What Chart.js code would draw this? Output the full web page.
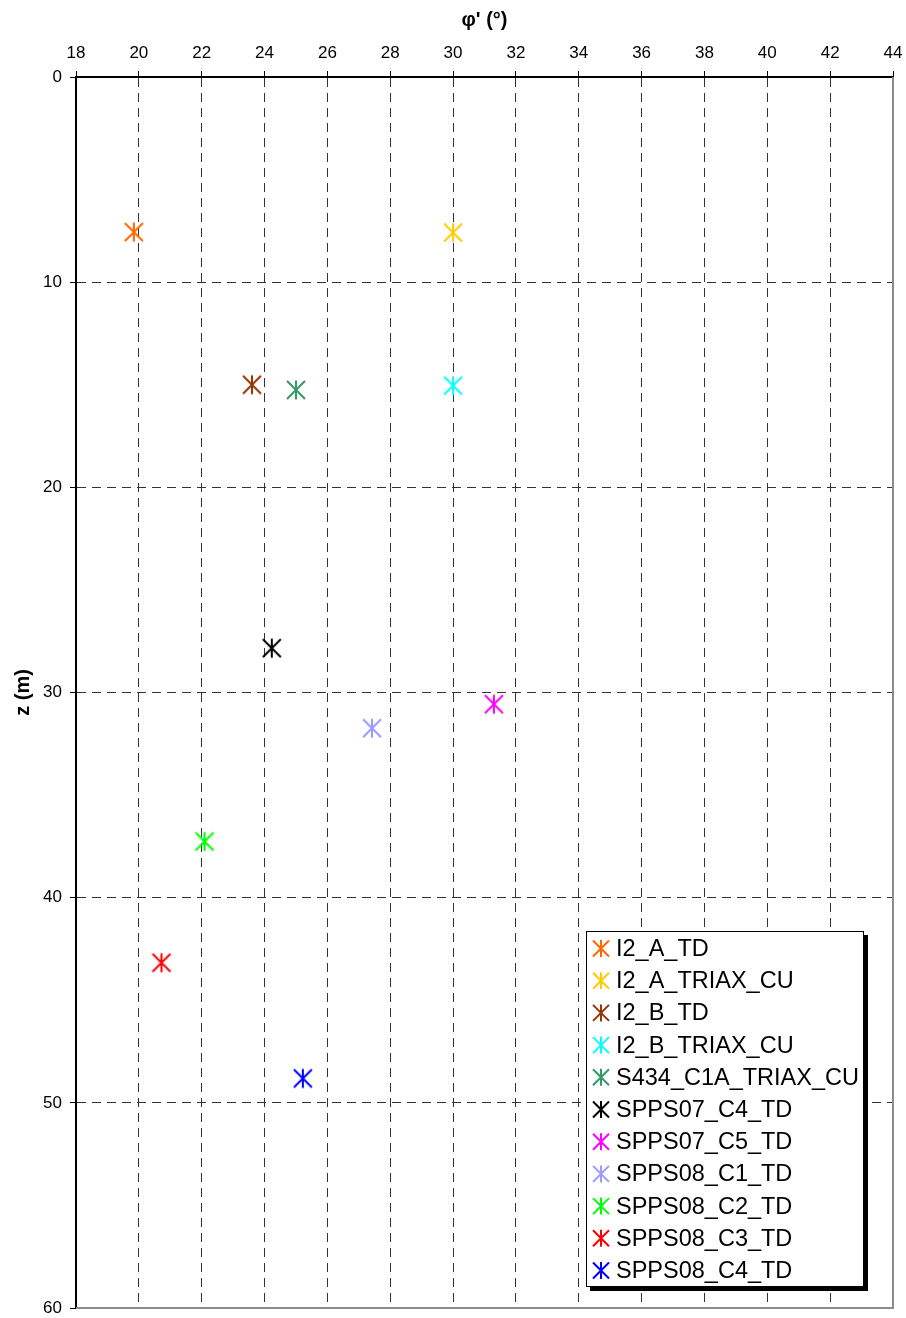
<!DOCTYPE html>
<html lang="en">
<head>
    <meta charset="UTF-8">
    <title>phi' vs z</title>
    <script src="https://cdn.jsdelivr.net/npm/chart.js"></script>
    <style>
        body { margin: 0; background: #fff; }
        canvas { display: block; }
    </style>
</head>
<body>
<canvas id="myChart" width="906" height="1318"></canvas>
<script>
    // series labels, colours and values (phi' in degrees, z in metres)
    const labels = ["I2_A_TD", "I2_A_TRIAX_CU", "I2_B_TD", "I2_B_TRIAX_CU", "S434_C1A_TRIAX_CU",
        "SPPS07_C4_TD", "SPPS07_C5_TD", "SPPS08_C1_TD", "SPPS08_C2_TD", "SPPS08_C3_TD", "SPPS08_C4_TD"];
    const colors = ["#FF6600", "#FFCC00", "#993300", "#00FFFF", "#339966",
        "#000000", "#FF00FF", "#9999FF", "#00FF00", "#FF0000", "#0000FF"];
    const phi = [19.84, 30.0, 23.6, 30.0, 25.0, 24.23, 31.3, 27.42, 22.09, 20.72, 25.22];
    const z = [7.56, 7.58, 15.0, 15.04, 15.25, 27.84, 30.57, 31.74, 37.26, 43.17, 48.81];

    const xTicks = [18, 20, 22, 24, 26, 28, 30, 32, 34, 36, 38, 40, 42, 44];
    const yTicks = [0, 10, 20, 30, 40, 50, 60];

    const FONT = "'Liberation Sans', Arial, sans-serif";

    function drawStar(ctx, cx, cy, r, color, lw) {
        ctx.save();
        ctx.strokeStyle = color;
        ctx.lineWidth = lw;
        ctx.beginPath();
        ctx.moveTo(cx - r, cy - r);
        ctx.lineTo(cx + r, cy + r);
        ctx.moveTo(cx - r, cy + r);
        ctx.lineTo(cx + r, cy - r);
        ctx.moveTo(cx, cy - r - 0.5);
        ctx.lineTo(cx, cy + r + 0.5);
        ctx.stroke();
        ctx.restore();
    }

    function starImage(color) {
        const c = document.createElement("canvas");
        c.width = 22;
        c.height = 22;
        drawStar(c.getContext("2d"), 11, 11, 9, color, 2);
        return c;
    }

    const datasets = [];
    for (let i = 0; i < labels.length; i++) {
        datasets.push({
            label: labels[i],
            data: [{x: phi[i], y: z[i]}],
            pointStyle: starImage(colors[i]),
            borderColor: colors[i],
            backgroundColor: colors[i],
            showLine: false
        });
    }

    function noOverhang(s) {
        s.paddingLeft = 0;
        s.paddingRight = 0;
        s.paddingTop = 0;
        s.paddingBottom = 0;
    }

    // gray frame on right/bottom of the plot area
    const frame = {
        id: "frame",
        beforeDatasetsDraw(chart) {
            const {ctx, chartArea: a} = chart;
            ctx.save();
            ctx.strokeStyle = "#8c8c8c";
            ctx.lineWidth = 2;
            ctx.beginPath();
            ctx.moveTo(a.right, a.top);
            ctx.lineTo(a.right, a.bottom);
            ctx.lineTo(a.left, a.bottom);
            ctx.stroke();
            ctx.restore();
        }
    };

    // boxed legend with shadow inside the plot
    const boxLegend = {
        id: "boxLegend",
        afterDraw(chart) {
            const ctx = chart.ctx;
            const bx = 586, by = 931, bw = 278, bh = 356;
            ctx.save();
            ctx.fillStyle = "#000";
            ctx.fillRect(bx + 4, by + 4, bw, bh);
            ctx.fillStyle = "#fff";
            ctx.fillRect(bx, by, bw, bh);
            ctx.strokeStyle = "#000";
            ctx.lineWidth = 1;
            ctx.strokeRect(bx + 0.5, by + 0.5, bw - 1, bh - 1);
            ctx.font = "23.5px " + FONT;
            ctx.textBaseline = "middle";
            ctx.fillStyle = "#000";
            chart.data.datasets.forEach((ds, i) => {
                const cy = by + 17.5 + i * 32.2;
                drawStar(ctx, bx + 15, cy, 8, ds.borderColor, 2);
                ctx.fillText(ds.label, bx + 30, cy + 1);
            });
            ctx.restore();
        }
    };

    new Chart(document.getElementById("myChart"), {
        type: "scatter",
        data: {datasets: datasets},
        options: {
            responsive: false,
            animation: false,
            devicePixelRatio: 1,
            layout: {autoPadding: false, padding: {left: 0, right: 13, top: 0, bottom: 10}},
            plugins: {
                legend: {display: false},
                tooltip: {enabled: false}
            },
            scales: {
                x: {
                    type: "linear",
                    position: "top",
                    min: 18,
                    max: 44,
                    afterBuildTicks: (s) => { s.ticks = xTicks.map(v => ({value: v})); },
                    afterFit: (s) => { s.height = 77; noOverhang(s); },
                    ticks: {color: "#000", font: {family: FONT, size: 17}, padding: 7},
                    title: {
                        display: true,
                        text: "\u03c6' (\u00b0)",
                        color: "#000",
                        font: {family: FONT, size: 20, weight: "bold"},
                        padding: {top: 8, bottom: 0}
                    },
                    grid: {
                        color: (c) => (c.tick && (c.tick.value === 44 || c.tick.value === 18)) ? "rgba(0,0,0,0)" : "#333",
                        lineWidth: 1,
                        tickColor: "#000",
                        tickLength: 6,
                        tickWidth: 1
                    },
                    border: {display: true, color: "#000", width: 2, dash: [9, 6]}
                },
                y: {
                    type: "linear",
                    reverse: true,
                    min: 0,
                    max: 60,
                    afterBuildTicks: (s) => { s.ticks = yTicks.map(v => ({value: v})); },
                    afterFit: (s) => { s.width = 76; noOverhang(s); },
                    ticks: {color: "#000", font: {family: FONT, size: 17}, padding: 8},
                    title: {
                        display: true,
                        text: "z (m)",
                        color: "#000",
                        font: {family: FONT, size: 20, weight: "bold"},
                        padding: {top: 11, bottom: 0}
                    },
                    grid: {
                        color: (c) => (c.tick && (c.tick.value === 60 || c.tick.value === 0)) ? "rgba(0,0,0,0)" : "#333",
                        lineWidth: 1,
                        tickColor: "#000",
                        tickLength: 6,
                        tickWidth: 1
                    },
                    border: {display: true, color: "#000", width: 2, dash: [9, 6]}
                }
            }
        },
        plugins: [frame, boxLegend]
    });
</script>
</body>
</html>
